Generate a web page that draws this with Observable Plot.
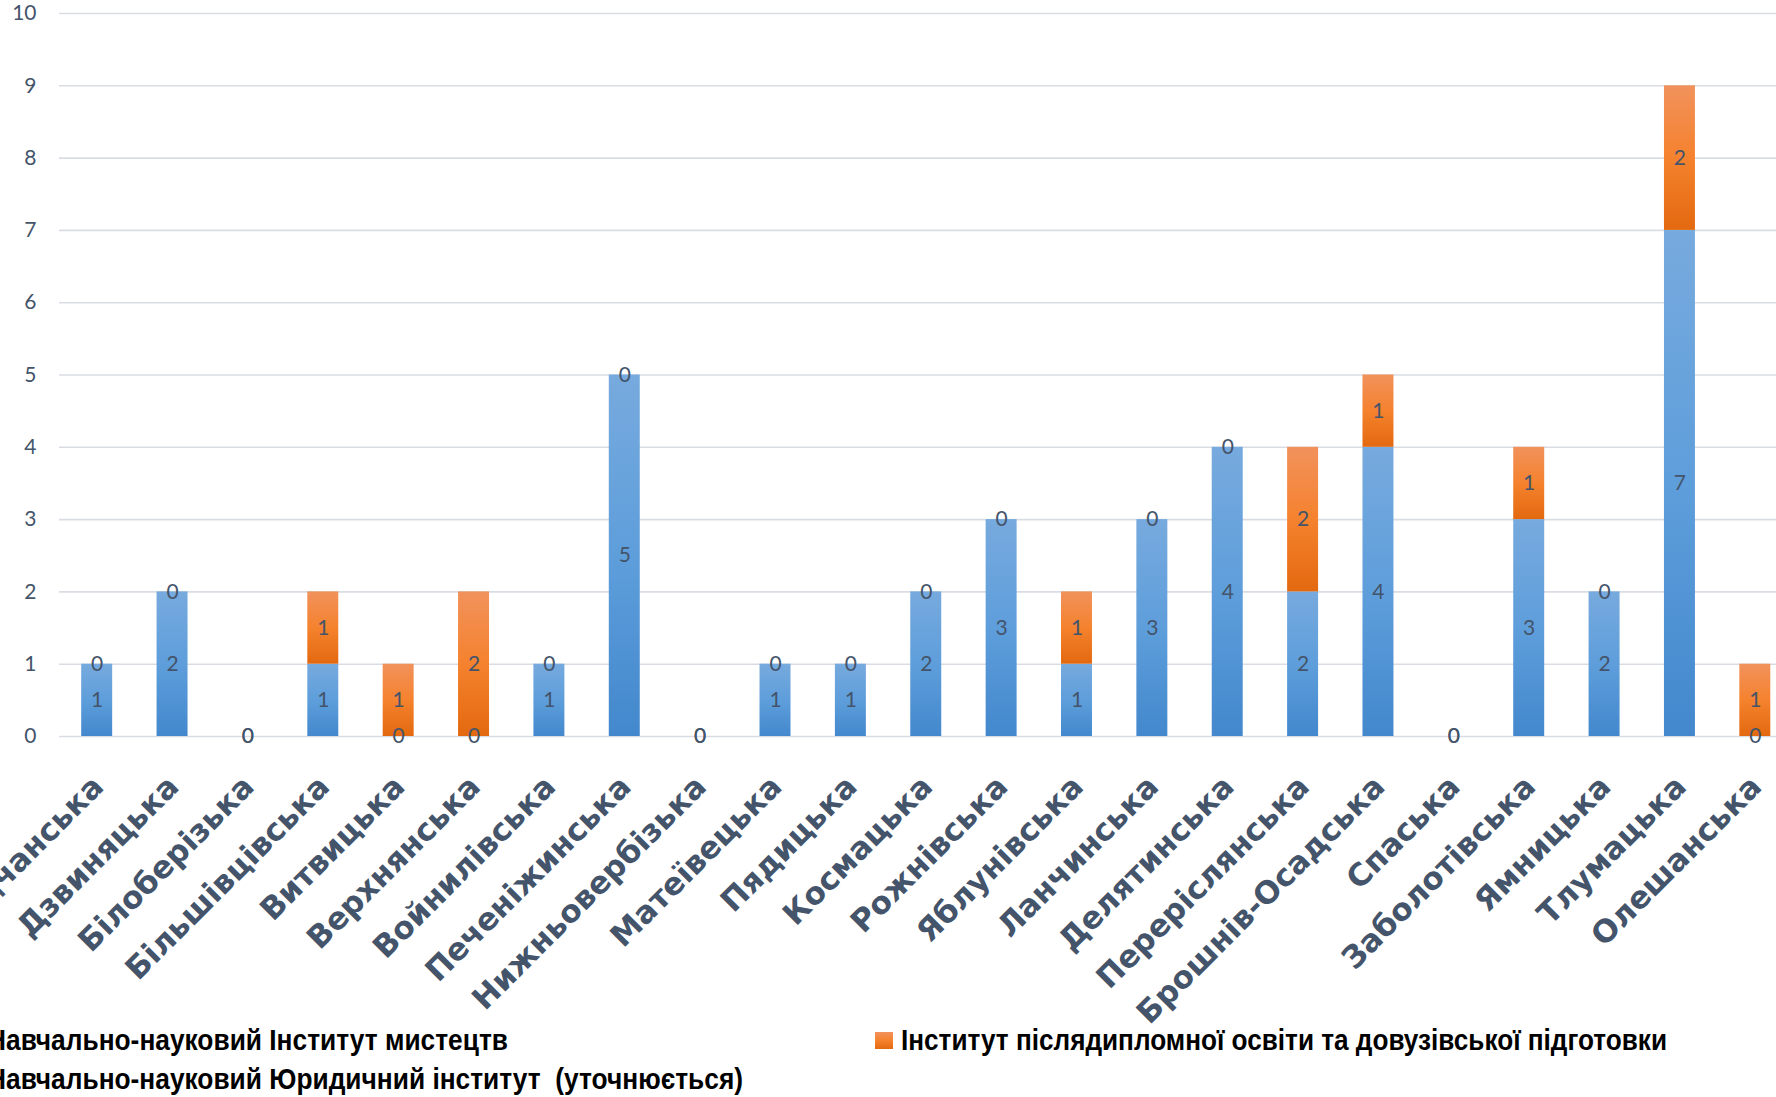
<!DOCTYPE html>
<html><head><meta charset="utf-8">
<script src="https://cdn.jsdelivr.net/npm/d3@7"></script>
<script src="https://cdn.jsdelivr.net/npm/@observablehq/plot@0.6"></script>
<style>
html,body{margin:0;padding:0;background:#fff;overflow:hidden;width:1776px;height:1097px}
#chart svg{display:block}
</style></head><body>
<div id="chart"></div>
<script>
const categories = ["Богородчанська","Дзвиняцька","Білоберізька","Більшівцівська","Витвицька","Верхнянська","Войнилівська","Печеніжинська","Нижньовербізька","Матеївецька","Пядицька","Космацька","Рожнівська","Яблунівська","Ланчинська","Делятинська","Переріслянська","Брошнів-Осадська","Спаська","Заболотівська","Ямницька","Тлумацька","Олешанська"];
const artsInstitute    = [1,2,0,1,0,0,1,5,0,1,1,2,3,1,3,4,2,4,0,3,2,7,0];
const postgradInstitute = [0,0,0,1,1,2,0,0,0,0,0,0,0,1,0,0,2,1,0,1,0,2,1];
const seriesNames = ["Навчально-науковий Інститут мистецтв","Інститут післядипломної освіти та довузівської підготовки","Навчально-науковий Юридичний інститут  (уточнюється)"];
const yTicks = [0,1,2,3,4,5,6,7,8,9,10];

const rows = categories.flatMap((c,i)=>[
  {cat:c, series:seriesNames[0], value:artsInstitute[i]},
  {cat:c, series:seriesNames[1], value:postgradInstitute[i]}
]);

function gradientDefs(){
  const d = d3.create("svg:defs");
  const b = d.append("linearGradient").attr("id","gBlue").attr("x1",0).attr("y1",0).attr("x2",0).attr("y2",1);
  b.append("stop").attr("offset","0%").attr("stop-color","#77AADE");
  b.append("stop").attr("offset","50%").attr("stop-color","#5E9EDB");
  b.append("stop").attr("offset","100%").attr("stop-color","#4388CD");
  const o = d.append("linearGradient").attr("id","gOrange").attr("x1",0).attr("y1",0).attr("x2",0).attr("y2",1);
  o.append("stop").attr("offset","0%").attr("stop-color","#F1925C");
  o.append("stop").attr("offset","50%").attr("stop-color","#F5822E");
  o.append("stop").attr("offset","100%").attr("stop-color","#E3690F");
  return d.node();
}

const labelColor = "#44546A";
const chart = Plot.plot({
  width: 1776,
  height: 1020,
  marginTop: 13,
  marginBottom: 284,
  marginLeft: 59,
  marginRight: 0,
  style: {fontFamily: "Lato", fontSize: "21px", background: "white", overflow: "visible"},
  x: {type: "band", domain: categories, range: [59, 1792.5], paddingInner: 0.589, paddingOuter: 0.2945, round: false},
  y: {domain: [0, 10]},
  color: {domain: seriesNames.slice(0,2), range: ["url(#gBlue)","url(#gOrange)"]},
  marks: [
    gradientDefs,
    Plot.ruleY(yTicks, {stroke: "#D9DDE3", strokeWidth: 1.6}),
    Plot.axisY({ticks: yTicks, tickSize: 0, tickPadding: 23, fontSize: 21, fill: labelColor, label: null, fontFamily: "Lato"}),
    Plot.barY(rows, Plot.stackY({x: "cat", y: "value", fill: "series"})),
    Plot.text(rows, Plot.stackY({x: "cat", y: "value", text: d => String(d.value), fill: labelColor, fontSize: 21, fontFamily: "Lato"})),
    Plot.axisX({tickSize: 0, tickPadding: 0, tickRotate: -45, textAnchor: "end", lineAnchor: "bottom", dx: 8, dy: 52,
      fontSize: 31, fontWeight: "bold", fontFamily: "DejaVu Sans", fill: labelColor, label: null})
  ]
});
document.getElementById("chart").appendChild(chart);

// legend below the chart
const lg = d3.select("#chart").append("svg").attr("width",1776).attr("height",77).style("display","block").style("overflow","visible");
lg.append("rect").attr("x",-36).attr("y",12).attr("width",18).attr("height",17).attr("fill","url(#gBlue)");
lg.append("rect").attr("x",875).attr("y",12).attr("width",18).attr("height",17).attr("fill","url(#gOrange)");
lg.append("rect").attr("x",-36).attr("y",50).attr("width",18).attr("height",17).attr("fill","#A5A5A5");
const lt = [
  {t: seriesNames[0], x: -13, y: 30.3, w: 521},
  {t: seriesNames[1], x: 901, y: 30.3, w: 766},
  {t: seriesNames[2], x: -13, y: 68.7, w: 756}
];
lg.selectAll("text.l").data(lt).join("text")
  .attr("x", d=>d.x).attr("y", d=>d.y)
  .attr("textLength", d=>d.w).attr("lengthAdjust","spacingAndGlyphs")
  .attr("font-family","'Liberation Sans Narrow','Liberation Sans',Arial,sans-serif")
  .attr("font-weight","bold").attr("font-size",30).attr("fill","#000")
  .attr("xml:space","preserve")
  .style("white-space","pre")
  .text(d=>d.t);
</script>
</body></html>
